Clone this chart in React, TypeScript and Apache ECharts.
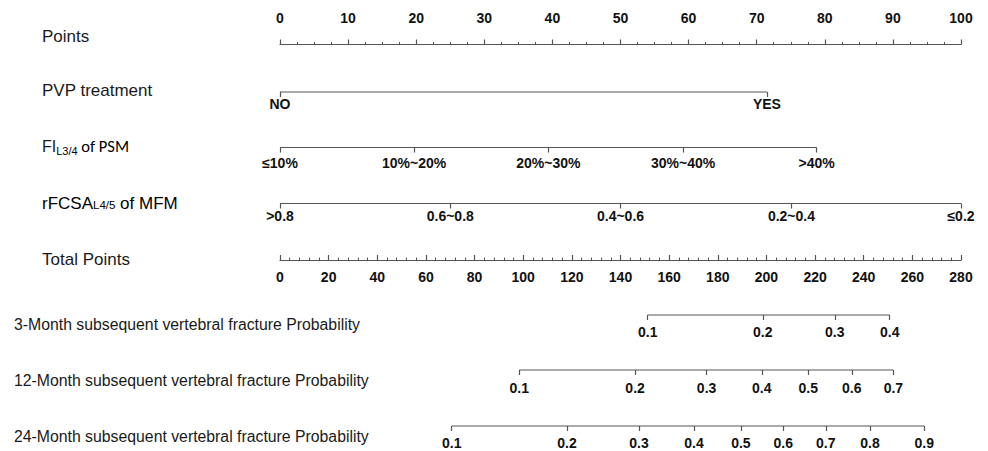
import React, { useEffect, useRef } from "react";
import * as echarts from "echarts";

// ---- data ----
const rowNames = [
  "Points",
  "PVP treatment",
  "FI",
  "rFCSA",
  "Total Points",
  "3-Month subsequent vertebral fracture Probability",
  "12-Month subsequent vertebral fracture Probability",
  "24-Month subsequent vertebral fracture Probability",
];

const pointsMin = 0;
const pointsMax = 100;
const pointsStep = 10;

const pvpLabels = ["NO", "YES"];
const pvpPoints = [0, 71.5];

const fiLabels = ["≤10%", "10%~20%", "20%~30%", "30%~40%", ">40%"];
const fiPoints = [0, 19.7, 39.4, 59.2, 78.8];

const rfcsaLabels = [">0.8", "0.6~0.8", "0.4~0.6", "0.2~0.4", "≤0.2"];
const rfcsaPoints = [0, 25.0, 50.0, 75.1, 100];

const totalMin = 0;
const totalMax = 280;
const totalStep = 20;

const prob3Labels = ["0.1", "0.2", "0.3", "0.4"];
const prob3Total = [151.2, 198.5, 228.1, 250.7];

const prob12Labels = ["0.1", "0.2", "0.3", "0.4", "0.5", "0.6", "0.7"];
const prob12Total = [98.4, 146.0, 175.4, 198.1, 217.2, 235.1, 252.2];

const prob24Labels = ["0.1", "0.2", "0.3", "0.4", "0.5", "0.6", "0.7", "0.8", "0.9"];
const prob24Total = [70.6, 118.0, 147.6, 170.2, 189.5, 206.9, 224.4, 242.6, 264.9];

// ---- styling / layout ----
const FONT = "'Liberation Sans', Arial, sans-serif";
const LINE_COLOR = "#555555";
const TEXT_COLOR = "#111111";
const GRID_LEFT = 280;
const GRID_WIDTH = 681;

const lineYs = [34.5, 92, 147.5, 203.5, 260, 315, 370, 426];
const labelYs = [36, 90, 146, 203, 259, 324, 380, 436];

const tickLabelStyle = {
  fontSize: 14,
  fontWeight: "bold" as const,
  color: TEXT_COLOR,
  fontFamily: FONT,
};

function bottomGrid(y: number) {
  return { left: GRID_LEFT, width: GRID_WIDTH, top: y - 10, height: 10 };
}

function customAxis(
  gridIndex: number,
  min: number,
  max: number,
  values: number[],
  labels: string[],
  margin: number
) {
  return {
    type: "value",
    gridIndex,
    min,
    max,
    position: "bottom",
    axisLine: { show: false },
    splitLine: { show: false },
    axisTick: {
      show: true,
      customValues: values,
      length: 5,
      lineStyle: { color: LINE_COLOR, width: 1.2 },
    },
    axisLabel: {
      customValues: values,
      margin,
      ...tickLabelStyle,
      formatter: (v: number) => {
        const i = values.findIndex((x) => Math.abs(x - v) < 1e-6);
        return i >= 0 ? labels[i] : "";
      },
    },
  };
}

function segment(index: number, values: number[]) {
  return {
    type: "line",
    xAxisIndex: index,
    yAxisIndex: index,
    data: [
      [values[0], 0],
      [values[values.length - 1], 0],
    ],
    symbol: "none",
    clip: false,
    silent: true,
    lineStyle: { color: LINE_COLOR, width: 1.2 },
  };
}

export default function App() {
  const ref = useRef<HTMLDivElement>(null);

  useEffect(() => {
    if (!ref.current) return;
    const chart = echarts.init(ref.current, null, { renderer: "svg" });

    const grids = [
      { left: GRID_LEFT, width: GRID_WIDTH, top: lineYs[0], height: 10 },
      bottomGrid(lineYs[1]),
      bottomGrid(lineYs[2]),
      bottomGrid(lineYs[3]),
      bottomGrid(lineYs[4]),
      bottomGrid(lineYs[5]),
      bottomGrid(lineYs[6]),
      bottomGrid(lineYs[7]),
    ];

    const xAxes: any[] = [
      {
        type: "value",
        gridIndex: 0,
        min: pointsMin,
        max: pointsMax,
        interval: pointsStep,
        position: "top",
        axisLine: { show: true, lineStyle: { color: LINE_COLOR, width: 1.2 } },
        axisTick: { show: true, length: 5, lineStyle: { color: LINE_COLOR, width: 1.2 } },
        minorTick: { show: true, splitNumber: 4, length: 2.5, lineStyle: { color: LINE_COLOR, width: 1 } },
        splitLine: { show: false },
        axisLabel: { margin: 10, ...tickLabelStyle },
      },
      customAxis(1, pointsMin, pointsMax, pvpPoints, pvpLabels, 5),
      customAxis(2, pointsMin, pointsMax, fiPoints, fiLabels, 8),
      customAxis(3, pointsMin, pointsMax, rfcsaPoints, rfcsaLabels, 5),
      {
        type: "value",
        gridIndex: 4,
        min: totalMin,
        max: totalMax,
        interval: totalStep,
        position: "bottom",
        axisLine: { show: true, lineStyle: { color: LINE_COLOR, width: 1.2 } },
        axisTick: { show: true, inside: true, length: 5, lineStyle: { color: LINE_COLOR, width: 1.2 } },
        minorTick: { show: true, splitNumber: 5, length: 2.5, lineStyle: { color: LINE_COLOR, width: 1 } },
        splitLine: { show: false },
        axisLabel: { margin: 10, ...tickLabelStyle },
      },
      customAxis(5, totalMin, totalMax, prob3Total, prob3Labels, 10),
      customAxis(6, totalMin, totalMax, prob12Total, prob12Labels, 11),
      customAxis(7, totalMin, totalMax, prob24Total, prob24Labels, 10),
    ];

    const yAxes = grids.map((_, i) => ({
      type: "value",
      gridIndex: i,
      min: 0,
      max: 1,
      show: false,
    }));

    const series = [
      segment(1, pvpPoints),
      segment(2, fiPoints),
      segment(3, rfcsaPoints),
      segment(5, prob3Total),
      segment(6, prob12Total),
      segment(7, prob24Total),
    ];

    const mainText = { fontSize: 17, fontFamily: FONT, fill: "#1a1a1a", verticalAlign: "middle" as const };
    const probText = { fontSize: 15.8, fontFamily: FONT, fill: "#1a1a1a", verticalAlign: "middle" as const };

    const graphic: any[] = [
      { type: "text", x: 42, y: labelYs[0], style: { text: rowNames[0], ...mainText } },
      { type: "text", x: 42, y: labelYs[1], style: { text: rowNames[1], ...mainText } },
      {
        type: "text",
        x: 42,
        y: labelYs[2],
        style: {
          text: "{a|FI}{s|L3/4}{b| of PSM}",
          verticalAlign: "middle",
          rich: {
            a: { fontSize: 16, fontFamily: FONT, fill: "#1a1a1a", color: "#1a1a1a" },
            s: { fontSize: 11, fontFamily: FONT, color: "#1a1a1a", padding: [9, 0, 0, 0] },
            b: { fontSize: 16.5, fontFamily: "Carlito, 'Open Sans', " + FONT, color: "#1a1a1a" },
          },
        },
      },
      {
        type: "text",
        x: 42,
        y: labelYs[3],
        style: {
          text: "{a|rFCSA}{s|L4/5}{b| of MFM}",
          verticalAlign: "middle",
          rich: {
            a: { fontSize: 17, fontFamily: FONT, color: "#1a1a1a" },
            s: { fontSize: 11.5, fontFamily: FONT, color: "#1a1a1a", padding: [4, 0, 0, 0] },
            b: { fontSize: 17, fontFamily: FONT, color: "#1a1a1a" },
          },
        },
      },
      { type: "text", x: 42, y: labelYs[4], style: { text: rowNames[4], ...mainText } },
      { type: "text", x: 14, y: labelYs[5], style: { text: rowNames[5], ...probText } },
      { type: "text", x: 14, y: labelYs[6], style: { text: rowNames[6], ...probText } },
      { type: "text", x: 14, y: labelYs[7], style: { text: rowNames[7], ...probText } },
    ];

    chart.setOption({
      animation: false,
      backgroundColor: "#ffffff",
      grid: grids,
      xAxis: xAxes,
      yAxis: yAxes,
      series,
      graphic,
    });

    return () => chart.dispose();
  }, []);

  return (
    <div
      ref={ref}
      style={{ position: "fixed", left: 0, top: 0, width: 988, height: 451 }}
    />
  );
}
